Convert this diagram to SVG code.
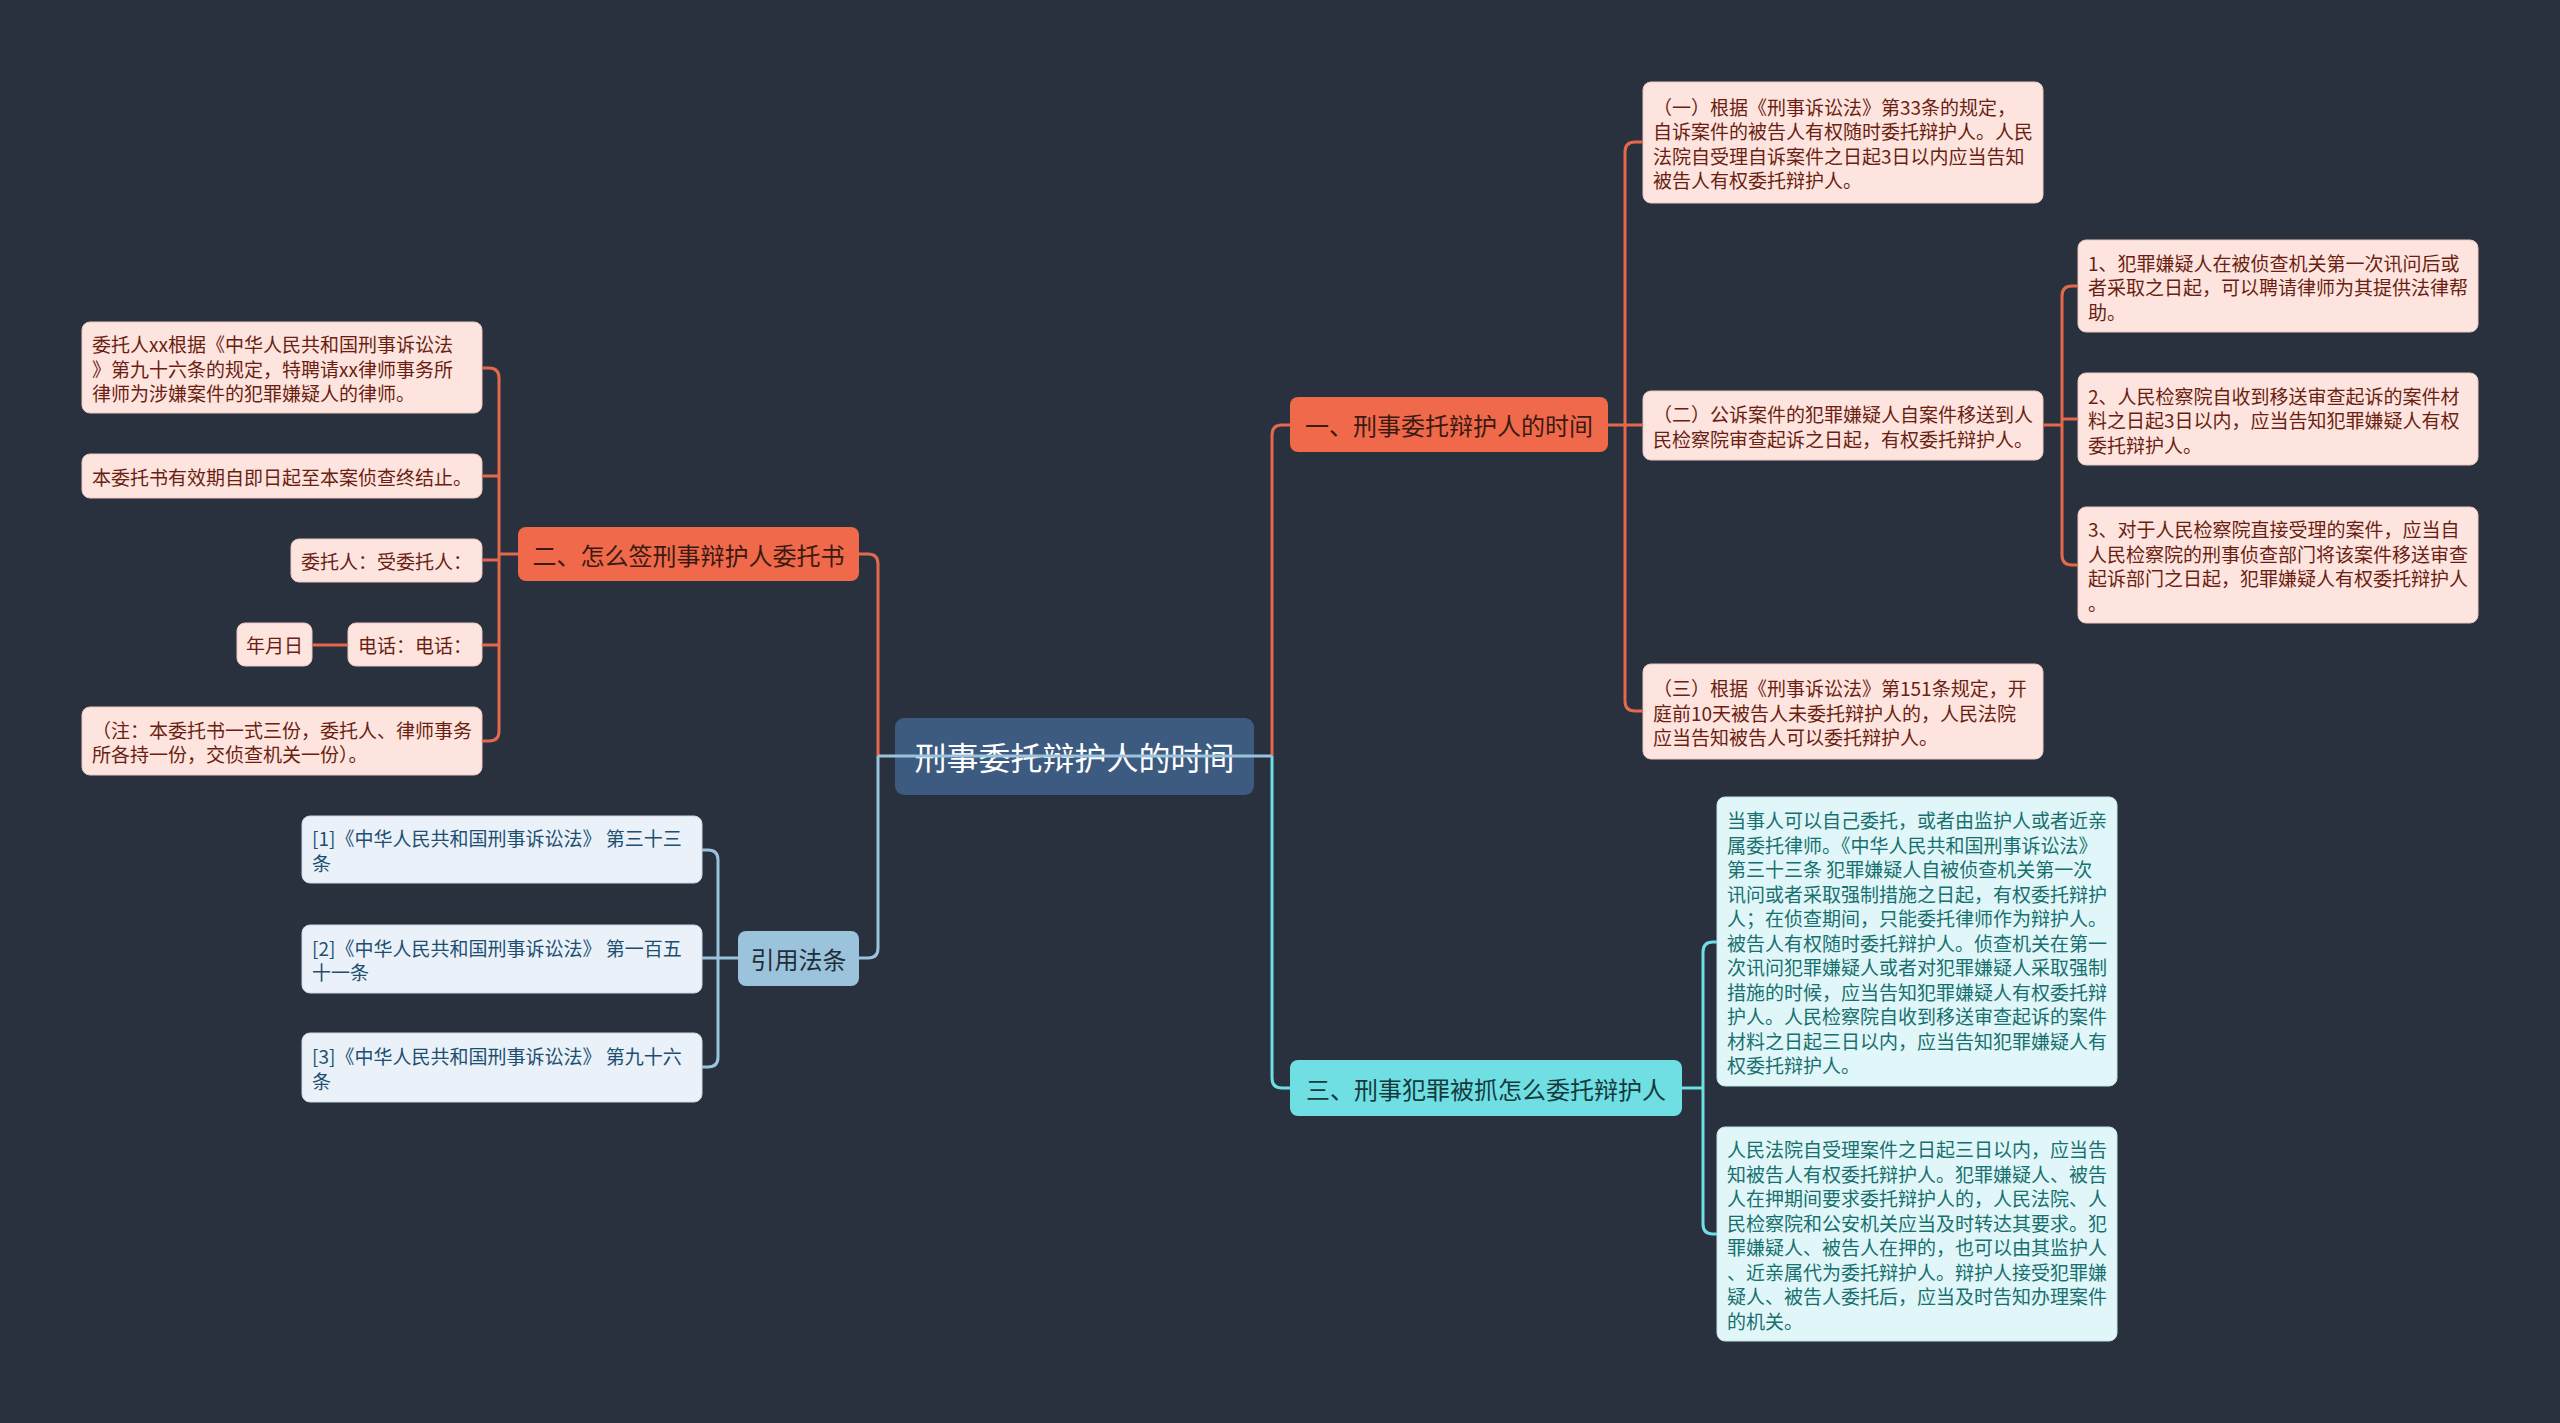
<svg xmlns="http://www.w3.org/2000/svg" width="2560" height="1423" viewBox="0 0 2560 1423">
<style>
text{font-family:"Noto Sans CJK SC","Microsoft YaHei",sans-serif;dominant-baseline:central}
.root rect{fill:#3d5a80}
.root text{fill:#ffffff;font-size:32px;text-anchor:middle}
.org rect{fill:#f0694b}
.org text{fill:#3b1a12;font-size:24px;text-anchor:middle}
.cy rect{fill:#6fdfe4}
.cy text{fill:#163a3c;font-size:24px;text-anchor:middle}
.bl rect{fill:#9cc3dc}
.bl text{fill:#1f2d3a;font-size:24px;text-anchor:middle}
.pk rect{fill:#fde4de;stroke:#e9c8c0;stroke-width:1}
.pk text{fill:#6b1e12;font-size:19px}
.lc rect{fill:#e0f6f8;stroke:#c2e4e8;stroke-width:1}
.lc text{fill:#17706f;font-size:19px}
.lb rect{fill:#eaf1f8;stroke:#cdd9e4;stroke-width:1}
.lb text{fill:#1d4f72;font-size:19px}
.c path{fill:none;stroke-width:3}
.o{stroke:#e4684c}
.t{stroke:#6fdfe4}
.b{stroke:#9cc3dc}
</style>
<rect x="0" y="0" width="2560" height="1423" fill="#29313f"/>

<g id="root" class="root">
<rect x="895" y="718" width="359" height="77" rx="9"/>
<text x="1074.5" y="756">刑事委托辩护人的时间</text>
</g>

<g id="n1" class="org">
<rect x="1290" y="397" width="318" height="55" rx="8"/>
<text x="1449" y="424.5">一、刑事委托辩护人的时间</text>
</g>
<g id="n2" class="org">
<rect x="518" y="527" width="341" height="54" rx="8"/>
<text x="688.5" y="554">二、怎么签刑事辩护人委托书</text>
</g>
<g id="n3" class="cy">
<rect x="1290" y="1060" width="392" height="56" rx="8"/>
<text x="1486" y="1088">三、刑事犯罪被抓怎么委托辩护人</text>
</g>
<g id="n4" class="bl">
<rect x="738" y="931" width="121" height="55" rx="8"/>
<text x="798.5" y="958.5">引用法条</text>
</g>

<g id="n1a" class="pk">
<rect x="1643" y="82" width="400" height="121" rx="8"/>
<text x="1653" y="105.5"><tspan x="1653" y="105.5">（一）根据《刑事诉讼法》第33条的规定，</tspan><tspan x="1653" y="130">自诉案件的被告人有权随时委托辩护人。人民</tspan><tspan x="1653" y="154.5">法院自受理自诉案件之日起3日以内应当告知</tspan><tspan x="1653" y="179">被告人有权委托辩护人。</tspan></text>
</g>
<g id="n1b" class="pk">
<rect x="1643" y="391" width="400" height="69" rx="8"/>
<text x="1653" y="413"><tspan x="1653" y="413">（二）公诉案件的犯罪嫌疑人自案件移送到人</tspan><tspan x="1653" y="437.5">民检察院审查起诉之日起，有权委托辩护人。</tspan></text>
</g>
<g id="n1c" class="pk">
<rect x="1643" y="664" width="400" height="95" rx="8"/>
<text x="1653" y="687"><tspan x="1653" y="687">（三）根据《刑事诉讼法》第151条规定，开</tspan><tspan x="1653" y="711.5">庭前10天被告人未委托辩护人的，人民法院</tspan><tspan x="1653" y="736">应当告知被告人可以委托辩护人。</tspan></text>
</g>
<g id="n1b1" class="pk">
<rect x="2078" y="240" width="400" height="92" rx="8"/>
<text x="2088" y="261.5"><tspan x="2088" y="261.5">1、犯罪嫌疑人在被侦查机关第一次讯问后或</tspan><tspan x="2088" y="286">者采取之日起，可以聘请律师为其提供法律帮</tspan><tspan x="2088" y="310.5">助。</tspan></text>
</g>
<g id="n1b2" class="pk">
<rect x="2078" y="373" width="400" height="92" rx="8"/>
<text x="2088" y="394.5"><tspan x="2088" y="394.5">2、人民检察院自收到移送审查起诉的案件材</tspan><tspan x="2088" y="419">料之日起3日以内，应当告知犯罪嫌疑人有权</tspan><tspan x="2088" y="443.5">委托辩护人。</tspan></text>
</g>
<g id="n1b3" class="pk">
<rect x="2078" y="507" width="400" height="116" rx="8"/>
<text x="2088" y="528"><tspan x="2088" y="528">3、对于人民检察院直接受理的案件，应当自</tspan><tspan x="2088" y="552.5">人民检察院的刑事侦查部门将该案件移送审查</tspan><tspan x="2088" y="577">起诉部门之日起，犯罪嫌疑人有权委托辩护人</tspan><tspan x="2088" y="601.5">。</tspan></text>
</g>

<g id="n2a" class="pk">
<rect x="82" y="322" width="400" height="91" rx="8"/>
<text x="92" y="343"><tspan x="92" y="343">委托人xx根据《中华人民共和国刑事诉讼法</tspan><tspan x="92" y="367.5">》第九十六条的规定，特聘请xx律师事务所</tspan><tspan x="92" y="392">律师为涉嫌案件的犯罪嫌疑人的律师。</tspan></text>
</g>
<g id="n2b" class="pk">
<rect x="82" y="454" width="400" height="44" rx="8"/>
<text x="92" y="476">本委托书有效期自即日起至本案侦查终结止。</text>
</g>
<g id="n2c" class="pk">
<rect x="291" y="539" width="191" height="43" rx="8"/>
<text x="301" y="560.5">委托人：受委托人：</text>
</g>
<g id="n2d" class="pk">
<rect x="348" y="623" width="134" height="43" rx="8"/>
<text x="358" y="644.5">电话：电话：</text>
</g>
<g id="n2e" class="pk">
<rect x="237" y="623" width="75" height="43" rx="8"/>
<text x="246" y="644.5">年月日</text>
</g>
<g id="n2f" class="pk">
<rect x="82" y="707" width="400" height="68" rx="8"/>
<text x="92" y="728.5"><tspan x="92" y="728.5">（注：本委托书一式三份，委托人、律师事务</tspan><tspan x="92" y="753">所各持一份，交侦查机关一份）。</tspan></text>
</g>

<g id="n3a" class="lc">
<rect x="1717" y="797" width="400" height="289" rx="8"/>
<text x="1727" y="819"><tspan x="1727" y="819">当事人可以自己委托，或者由监护人或者近亲</tspan><tspan x="1727" y="843.5">属委托律师。《中华人民共和国刑事诉讼法》</tspan><tspan x="1727" y="868">第三十三条 犯罪嫌疑人自被侦查机关第一次</tspan><tspan x="1727" y="892.5">讯问或者采取强制措施之日起，有权委托辩护</tspan><tspan x="1727" y="917">人；在侦查期间，只能委托律师作为辩护人。</tspan><tspan x="1727" y="941.5">被告人有权随时委托辩护人。侦查机关在第一</tspan><tspan x="1727" y="966">次讯问犯罪嫌疑人或者对犯罪嫌疑人采取强制</tspan><tspan x="1727" y="990.5">措施的时候，应当告知犯罪嫌疑人有权委托辩</tspan><tspan x="1727" y="1015">护人。人民检察院自收到移送审查起诉的案件</tspan><tspan x="1727" y="1039.5">材料之日起三日以内，应当告知犯罪嫌疑人有</tspan><tspan x="1727" y="1064">权委托辩护人。</tspan></text>
</g>
<g id="n3b" class="lc">
<rect x="1717" y="1127" width="400" height="214" rx="8"/>
<text x="1727" y="1148"><tspan x="1727" y="1148">人民法院自受理案件之日起三日以内，应当告</tspan><tspan x="1727" y="1172.5">知被告人有权委托辩护人。犯罪嫌疑人、被告</tspan><tspan x="1727" y="1197">人在押期间要求委托辩护人的，人民法院、人</tspan><tspan x="1727" y="1221.5">民检察院和公安机关应当及时转达其要求。犯</tspan><tspan x="1727" y="1246">罪嫌疑人、被告人在押的，也可以由其监护人</tspan><tspan x="1727" y="1270.5">、近亲属代为委托辩护人。辩护人接受犯罪嫌</tspan><tspan x="1727" y="1295">疑人、被告人委托后，应当及时告知办理案件</tspan><tspan x="1727" y="1319.5">的机关。</tspan></text>
</g>

<g id="n4a" class="lb">
<rect x="302" y="816" width="400" height="67" rx="8"/>
<text x="312" y="837"><tspan x="312" y="837">[1]《中华人民共和国刑事诉讼法》 第三十三</tspan><tspan x="312" y="861.5">条</tspan></text>
</g>
<g id="n4b" class="lb">
<rect x="302" y="925" width="400" height="68" rx="8"/>
<text x="312" y="946.5"><tspan x="312" y="946.5">[2]《中华人民共和国刑事诉讼法》 第一百五</tspan><tspan x="312" y="971">十一条</tspan></text>
</g>
<g id="n4c" class="lb">
<rect x="302" y="1033" width="400" height="69" rx="8"/>
<text x="312" y="1055"><tspan x="312" y="1055">[3]《中华人民共和国刑事诉讼法》 第九十六</tspan><tspan x="312" y="1079.5">条</tspan></text>
</g>

<g id="connectors" class="c">
<path class="o" d="M1272 756 V435 Q1272 425 1282 425 H1290"/>
<path class="t" d="M1272 756 V1078 Q1272 1088 1282 1088 H1290"/>
<path class="o" d="M878 756 V564 Q878 554 868 554 H859"/>
<path class="b" d="M878 756 V948 Q878 958 868 958 H859"/>
<path class="b" d="M878 756 H1272" stroke="#a6d6e4"/>
<path class="o" d="M1608 425 H1643"/>
<path class="o" d="M1643 142 H1635 Q1625 142 1625 152 V701 Q1625 711 1635 711 H1643"/>
<path class="o" d="M2043 425 H2062"/>
<path class="o" d="M2078 286 H2072 Q2062 286 2062 296 V555 Q2062 565 2072 565 H2078"/>
<path class="o" d="M2062 419 H2078"/>
<path class="o" d="M518 554 H499"/>
<path class="o" d="M482 368 H489 Q499 368 499 378 V731 Q499 741 489 741 H482"/>
<path class="o" d="M499 476 H482"/>
<path class="o" d="M499 560 H482"/>
<path class="o" d="M499 645 H482"/>
<path class="o" d="M348 645 H312"/>
<path class="b" d="M738 958 H702"/>
<path class="b" d="M702 850 H708 Q718 850 718 860 V1057 Q718 1067 708 1067 H702"/>
<path class="t" d="M1682 1088 H1703"/>
<path class="t" d="M1717 942 H1713 Q1703 942 1703 952 V1224 Q1703 1234 1713 1234 H1717"/>
</g>
</svg>
